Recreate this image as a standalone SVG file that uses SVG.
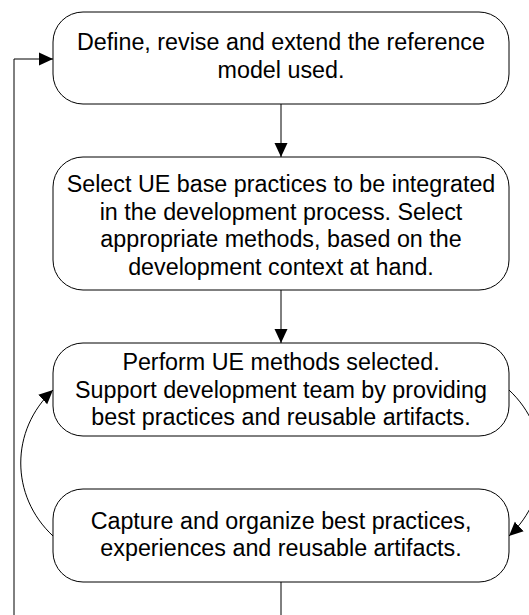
<svg xmlns="http://www.w3.org/2000/svg" width="529" height="615" viewBox="0 0 529 615">
  <style>
    .box { fill: #ffffff; stroke: #000000; stroke-width: 1; }
    .lbl { font-family: "Liberation Sans", Arial, sans-serif; font-size: 23.3px; fill: #000000; text-anchor: middle; }
    .wire { fill: none; stroke: #000000; stroke-width: 1; }
  </style>
  <defs>
    <marker id="head" viewBox="0 0 14 14" refX="14" refY="7" markerWidth="14" markerHeight="14" markerUnits="userSpaceOnUse" orient="auto">
      <path d="M0,0.5 L14,7 L0,13.5 z" fill="#000000"/>
    </marker>
  </defs>
  <rect width="529" height="615" fill="#ffffff"/>

  <g id="connectors">
    <!-- feedback loop back to the reference model -->
    <path class="wire" d="M281,582 L281,615"/>
    <path class="wire" d="M14,615 L14,59 L53,59" marker-end="url(#head)"/>
    <!-- main flow -->
    <path class="wire" d="M281,104 L281,157" marker-end="url(#head)"/>
    <path class="wire" d="M281,290 L281,343" marker-end="url(#head)"/>
    <!-- perform / capture cycle -->
    <path class="wire" d="M509,390 C552,430 552,496 509,536" marker-end="url(#head)"/>
    <path class="wire" d="M53,536 C10,496 10,430 53,390" marker-end="url(#head)"/>
  </g>

  <g id="define">
    <rect class="box" x="53" y="12" width="456" height="92" rx="30" ry="30"/>
    <text class="lbl" x="281" y="50">Define, revise and extend the reference</text>
    <text class="lbl" x="281" y="78">model used.</text>
  </g>

  <g id="select">
    <rect class="box" x="53" y="157" width="456" height="133" rx="30" ry="30"/>
    <text class="lbl" x="281" y="192">Select UE base practices to be integrated</text>
    <text class="lbl" x="281" y="219.5">in the development process. Select</text>
    <text class="lbl" x="281" y="247">appropriate methods, based on the</text>
    <text class="lbl" x="281" y="274.5">development context at hand.</text>
  </g>

  <g id="perform">
    <rect class="box" x="53" y="343" width="456" height="93" rx="30" ry="30"/>
    <text class="lbl" x="281" y="370">Perform UE methods selected.</text>
    <text class="lbl" x="281" y="397.5">Support development team by providing</text>
    <text class="lbl" x="281" y="424.5">best practices and reusable artifacts.</text>
  </g>

  <g id="capture">
    <rect class="box" x="53" y="489" width="456" height="93" rx="30" ry="30"/>
    <text class="lbl" x="281" y="528.5">Capture and organize best practices,</text>
    <text class="lbl" x="281" y="556">experiences and reusable artifacts.</text>
  </g>
</svg>
